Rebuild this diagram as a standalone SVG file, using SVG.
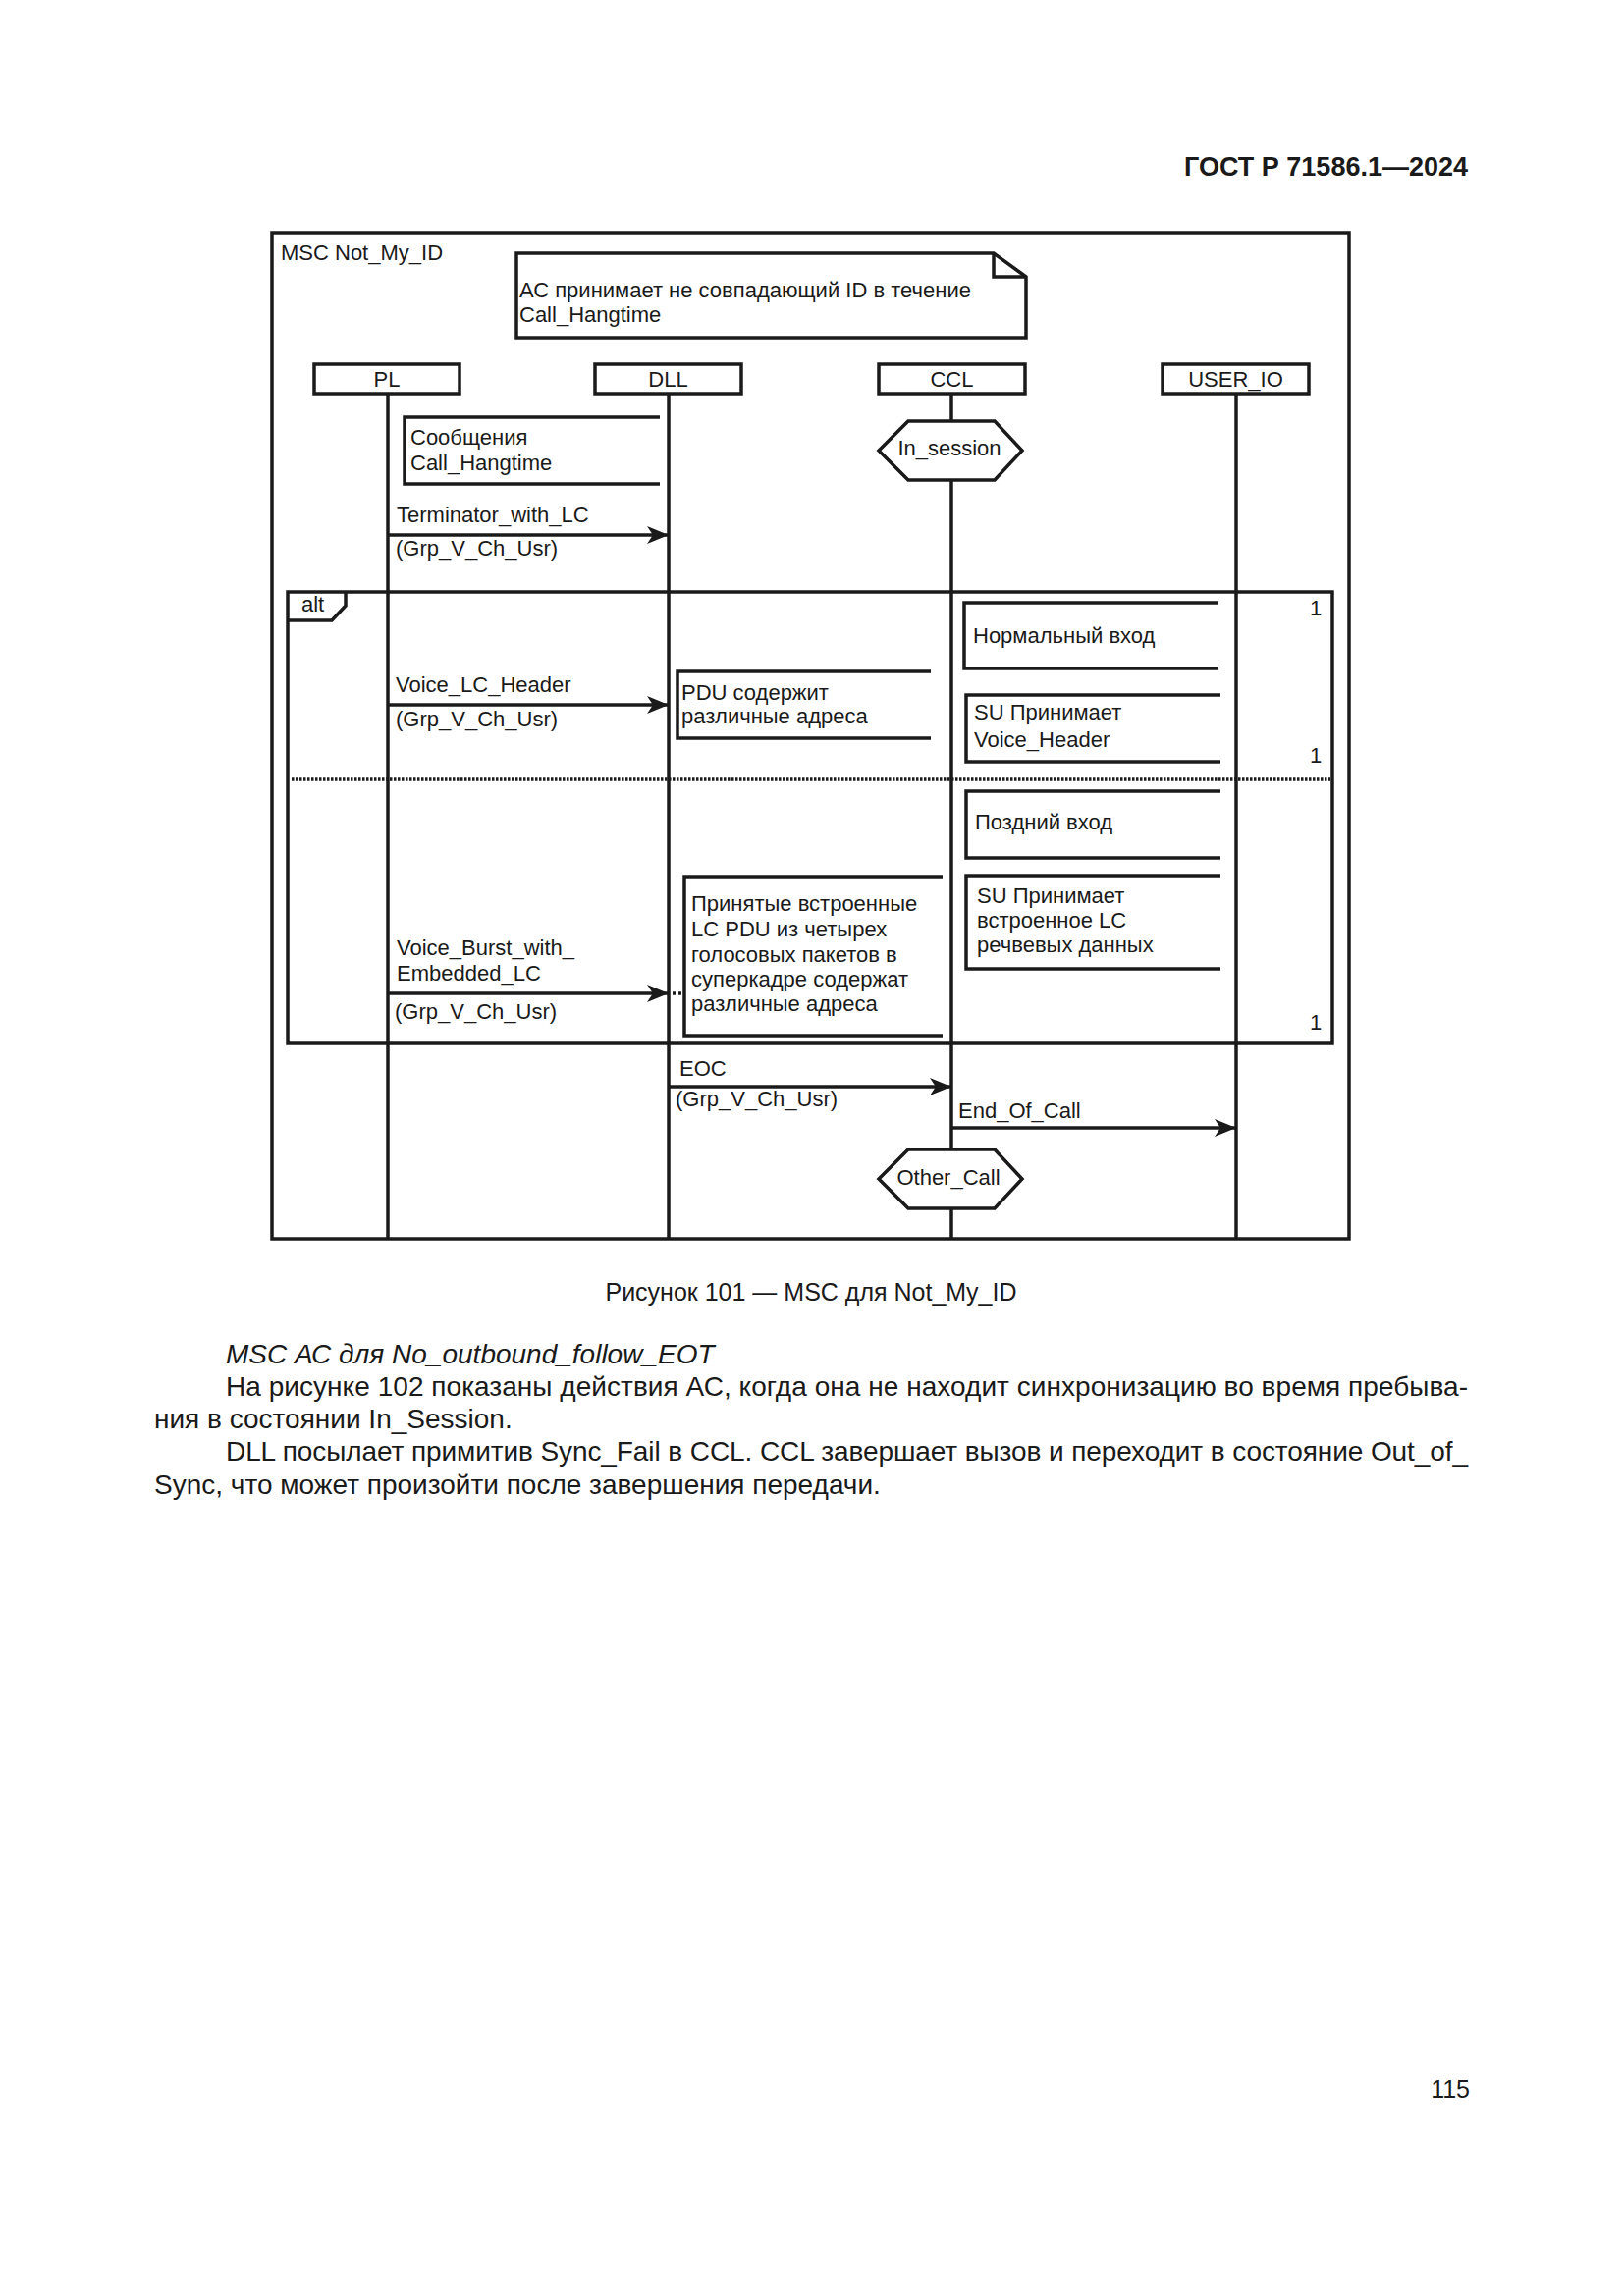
<svg xmlns="http://www.w3.org/2000/svg" width="1654" height="2339" viewBox="0 0 1654 2339">
<style>
.ln{fill:none;stroke:#1a1a1a;stroke-width:3.5}
.bx{fill:#fff;stroke:#1a1a1a;stroke-width:3.5}
.t{font-family:"Liberation Sans",Arial,sans-serif;font-size:22px;fill:#1a1a1a}
.c{text-anchor:middle}
.dot{fill:none;stroke:#1a1a1a;stroke-width:3.5;stroke-dasharray:2.5 1.5}
.arr{fill:none;stroke:#1a1a1a;stroke-width:3.5;marker-end:url(#ah)}
.body{font-family:"Liberation Sans",Arial,sans-serif;font-size:28px;fill:#1a1a1a}
</style>
<defs>
<marker id="ah" markerUnits="userSpaceOnUse" markerWidth="26" markerHeight="22" refX="22" refY="11" orient="auto">
<path d="M0,2 L22,11 L0,20 L6,11 Z" fill="#1a1a1a"/>
</marker>
</defs>
<rect width="1654" height="2339" fill="#fff"/>

<text x="1495" y="179" text-anchor="end" font-family="Liberation Sans,Arial,sans-serif" font-size="27" font-weight="bold" fill="#1a1a1a">ГОСТ Р 71586.1—2024</text>

<g id="frame">
<rect class="ln" x="277" y="237" width="1097" height="1025"/>
<text class="t" x="286" y="265">MSC Not_My_ID</text>
</g>

<g id="note">
<path class="bx" d="M526,258 L1012,258 L1045,282 L1045,344 L526,344 Z"/>
<path class="ln" d="M1012,258 L1012,282 L1045,282"/>
<text class="t" x="529" y="303">АС принимает не совпадающий ID в течение</text>
<text class="t" x="529" y="328">Call_Hangtime</text>
</g>

<g id="lifelines">
<line class="ln" x1="395" y1="401" x2="395" y2="1262"/>
<line class="ln" x1="681" y1="401" x2="681" y2="1262"/>
<line class="ln" x1="969" y1="401" x2="969" y2="429"/>
<line class="ln" x1="969" y1="489" x2="969" y2="1171"/>
<line class="ln" x1="969" y1="1231" x2="969" y2="1262"/>
<line class="ln" x1="1259" y1="401" x2="1259" y2="1262"/>
</g>

<g id="PL">
<rect class="bx" x="320" y="371" width="148" height="30"/>
<text class="t c" x="394" y="394">PL</text>
</g>
<g id="DLL">
<rect class="bx" x="606" y="371" width="149" height="30"/>
<text class="t c" x="680.5" y="394">DLL</text>
</g>
<g id="CCL">
<rect class="bx" x="895" y="371" width="149" height="30"/>
<text class="t c" x="969.5" y="394">CCL</text>
</g>
<g id="USER_IO">
<rect class="bx" x="1184" y="371" width="149" height="30"/>
<text class="t c" x="1258.5" y="394">USER_IO</text>
</g>

<g id="msg_hangtime">
<path class="ln" d="M672,425 L412,425 L412,493 L672,493"/>
<text class="t" x="418" y="453">Сообщения</text>
<text class="t" x="418" y="479">Call_Hangtime</text>
</g>

<g id="in_session">
<polygon class="bx" points="895,459 925,429 1013,429 1041,459 1013,489 925,489"/>
<text class="t c" x="967" y="464">In_session</text>
</g>

<g id="alt">
<rect class="ln" x="293" y="603" width="1064" height="460"/>
<path class="ln" d="M293,632 L338,632 L352,617 L352,603"/>
<text class="t" x="307" y="623">alt</text>
<line class="dot" x1="297" y1="794" x2="1355" y2="794"/>
<text class="t c" x="1340" y="627">1</text>
<text class="t c" x="1340" y="777">1</text>
<text class="t c" x="1340" y="1049">1</text>
</g>

<g id="pdu_note">
<path class="ln" d="M948,684 L690,684 L690,752 L948,752"/>
<text class="t" x="694" y="713">PDU содержит</text>
<text class="t" x="694" y="737">различные адреса</text>
</g>

<g id="normal_entry">
<path class="ln" d="M1241,614 L982,614 L982,681 L1241,681"/>
<text class="t" x="991" y="655">Нормальный вход</text>
</g>

<g id="su_voice_header">
<path class="ln" d="M1243,708 L984,708 L984,776 L1243,776"/>
<text class="t" x="992" y="733">SU Принимает</text>
<text class="t" x="992" y="761">Voice_Header</text>
</g>

<g id="late_entry">
<path class="ln" d="M1243,806 L984,806 L984,874 L1243,874"/>
<text class="t" x="993" y="845">Поздний вход</text>
</g>

<g id="su_embedded">
<path class="ln" d="M1243,892 L984,892 L984,987 L1243,987"/>
<text class="t" x="995" y="920">SU Принимает</text>
<text class="t" x="995" y="945">встроенное LC</text>
<text class="t" x="995" y="970">речвевых данных</text>
</g>

<g id="embedded_note">
<path class="ln" d="M960,893 L697,893 L697,1055 L960,1055"/>
<text class="t" x="704" y="928">Принятые встроенные</text>
<text class="t" x="704" y="954">LC PDU из четырех</text>
<text class="t" x="704" y="980">голосовых пакетов в</text>
<text class="t" x="704" y="1005">суперкадре содержат</text>
<text class="t" x="704" y="1030">различные адреса</text>
</g>

<g id="other_call">
<polygon class="bx" points="895,1201 925,1171 1013,1171 1041,1201 1013,1231 925,1231"/>
<text class="t c" x="966" y="1207">Other_Call</text>
</g>

<g id="connectors">
<line class="arr" x1="395" y1="545" x2="681" y2="545"/>
<text class="t" x="404" y="532">Terminator_with_LC</text>
<text class="t" x="403" y="566">(Grp_V_Ch_Usr)</text>

<line class="arr" x1="395" y1="718" x2="681" y2="718"/>
<text class="t" x="403" y="705">Voice_LC_Header</text>
<text class="t" x="403" y="740">(Grp_V_Ch_Usr)</text>

<line class="arr" x1="395" y1="1012" x2="681" y2="1012"/>
<line class="dot" x1="685" y1="1012" x2="695" y2="1012" style="stroke-dasharray:3 3"/>
<text class="t" x="404" y="973">Voice_Burst_with_</text>
<text class="t" x="404" y="999">Embedded_LC</text>
<text class="t" x="402" y="1038">(Grp_V_Ch_Usr)</text>

<line class="arr" x1="681" y1="1107" x2="969" y2="1107"/>
<text class="t" x="692" y="1096">EOC</text>
<text class="t" x="688" y="1127">(Grp_V_Ch_Usr)</text>

<line class="arr" x1="969" y1="1149" x2="1259" y2="1149"/>
<text class="t" x="976" y="1139">End_Of_Call</text>
</g>

<text class="body c" x="826" y="1325" style="font-size:25px">Рисунок 101 — MSC для Not_My_ID</text>

<text class="body" x="230" y="1389" font-style="italic">MSC АС для No_outbound_follow_EOT</text>
<text class="body" x="230" y="1422" textLength="1265" lengthAdjust="spacing">На рисунке 102 показаны действия АС, когда она не находит синхронизацию во время пребыва-</text>
<text class="body" x="157" y="1455">ния в состоянии In_Session.</text>
<text class="body" x="230" y="1488" textLength="1265" lengthAdjust="spacing">DLL посылает примитив Sync_Fail в CCL. CCL завершает вызов и переходит в состояние Out_of_</text>
<text class="body" x="157" y="1522">Sync, что может произойти после завершения передачи.</text>

<text class="body" x="1497" y="2137" text-anchor="end" style="font-size:25px">115</text>
</svg>
